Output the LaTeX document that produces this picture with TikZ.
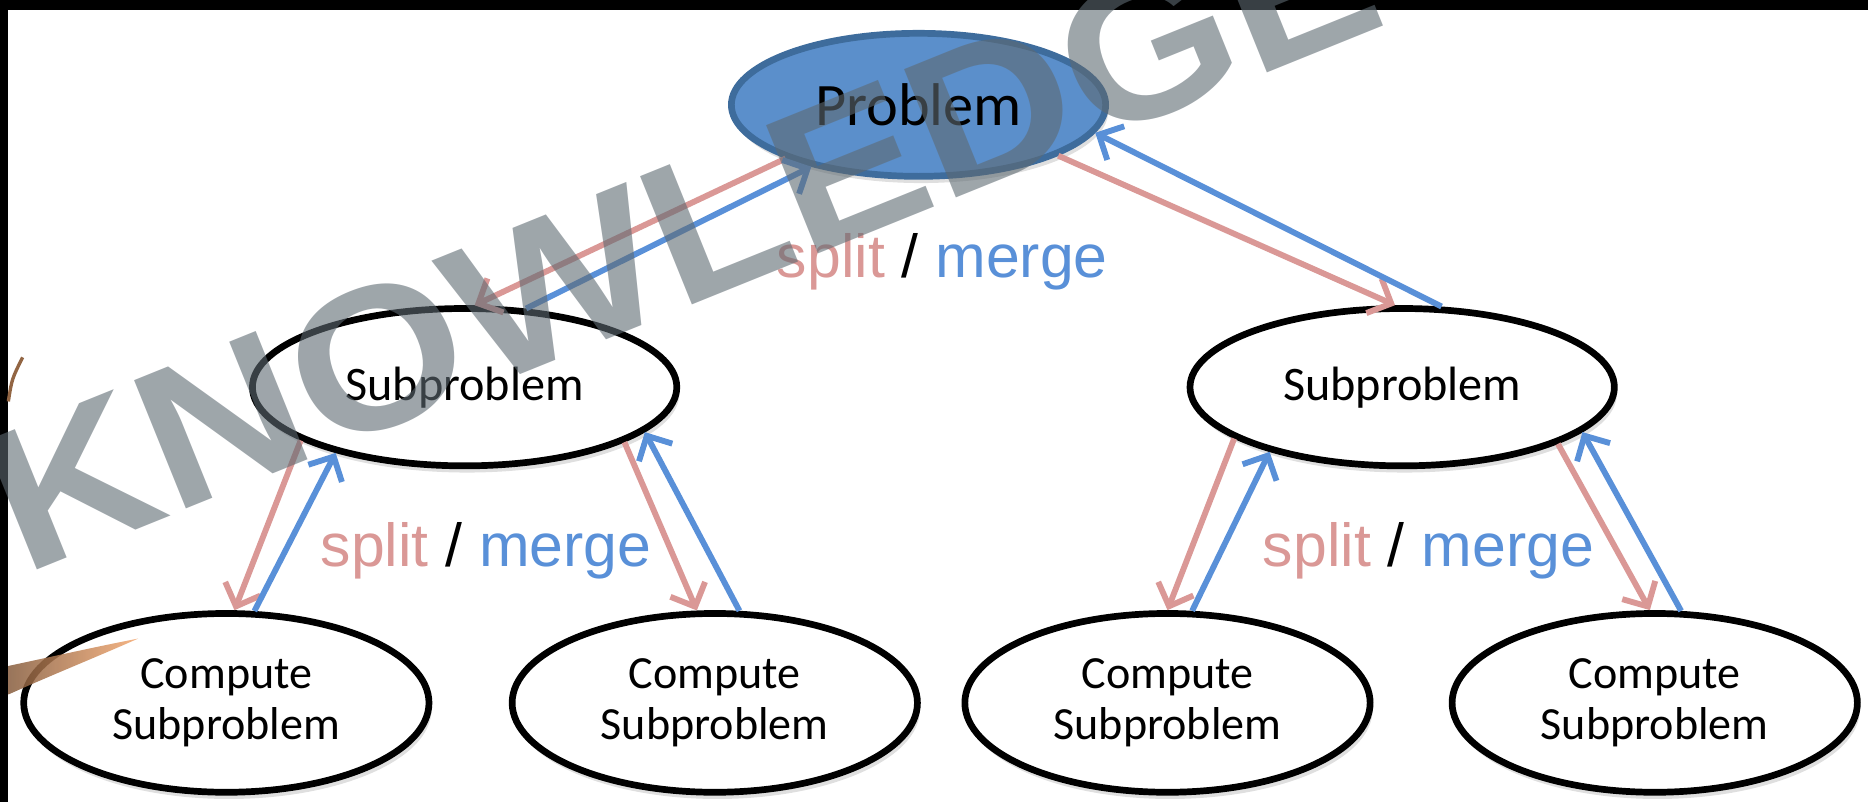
\documentclass[tikz,border=0pt]{standalone}
\usepackage{fontspec}
\setmainfont{Carlito}
\newfontfamily\labelfont{Liberation Sans}
\usepackage{tikz}
\usetikzlibrary{shapes.geometric, arrows.meta, shadows}
\definecolor{SplitRed}{HTML}{DA9896}
\definecolor{MergeBlue}{HTML}{5990D8}
\definecolor{ProbBlue}{HTML}{5B8FCB}
\definecolor{ProbEdge}{HTML}{3E6C9C}
\definecolor{MarkGray}{HTML}{5E6A72}
\definecolor{BrushOrange}{HTML}{F4A870}

\tikzset{
    box/.style={ellipse, draw=black, line width=1.6pt, fill=white, inner sep=0pt,
        drop shadow={opacity=0.25, shadow xshift=0.6pt, shadow yshift=-1.6pt}},
    subbox/.style={box, minimum width=3.56cm, minimum height=1.32cm, font=\fontsize{11.5}{13}\selectfont},
    leafbox/.style={box, minimum width=3.4cm, minimum height=1.5cm, align=center, font=\fontsize{11}{12}\selectfont},
    split/.style={SplitRed, line width=1.4pt, -{Straight Barb[length=4.5pt,width=9pt]}},
    merge/.style={MergeBlue, line width=1.4pt, -{Straight Barb[length=4.5pt,width=9pt]}},
    tag/.style={font=\labelfont\fontsize{14.5}{16}\selectfont, inner sep=0pt}
}

\begin{document}
\begin{tikzpicture}[x=0.01cm, y=-0.01cm]
    \useasboundingbox (0,0) rectangle (1568,673);

    % Dark frame edges
    \fill[black] (0,0) rectangle (1568,8);
    \fill[black] (0,0) rectangle (7,673);
    \draw[BrushOrange!60!black, line width=0.8pt] (7,337) .. controls (10,318) .. (19,300);

    % Problem tree
    \node[box, fill=ProbBlue, draw=ProbEdge, minimum width=3.14cm, minimum height=1.2cm,
        font=\fontsize{14.4}{16}\selectfont] (prob) at (771,88) {Problem};
    \node[subbox] (subL) at (390,325) {Subproblem};
    \node[subbox] (subR) at (1177,325) {Subproblem};
    \node[leafbox] (cLL) at (190,590) {Compute\\Subproblem};
    \node[leafbox] (cLR) at (600,590) {Compute\\Subproblem};
    \node[leafbox] (cRL) at (980,590) {Compute\\Subproblem};
    \node[leafbox] (cRR) at (1389,590) {Compute\\Subproblem};

    % Brush stroke at the left
    \shade[left color=BrushOrange!55!black, right color=BrushOrange, opacity=0.85]
        (7,559) .. controls (40,552) and (80,543) .. (116,536) .. controls (80,552) and (40,568) .. (7,583) -- cycle;

    % Split (down) and merge (up) arrows
    \draw[split] (prob.202) -- (subL.83);
    \draw[merge] (subL.52) -- (prob.210);
    \draw[split] (prob.340) -- (subR.95);
    \draw[merge] (subR.64) -- (prob.351);
    \draw[split] (subL.198) -- (cLL.85);
    \draw[merge] (cLL.73) -- (subL.207);
    \draw[split] (subL.341) -- (cLR.101);
    \draw[merge] (cLR.75) -- (subL.346);
    \draw[split] (subR.197) -- (cRL.90);
    \draw[merge] (cRL.75) -- (subR.206);
    \draw[split] (subR.340) -- (cRR.93);
    \draw[merge] (cRR.74) -- (subR.346);

    % Labels
    \node[tag] (lblTop) at (791,220) {\textcolor{SplitRed}{split} / \textcolor{MergeBlue}{merge}};
    \node[tag] (lblL) at (408,462) {\textcolor{SplitRed}{split} / \textcolor{MergeBlue}{merge}};
    \node[tag] (lblR) at (1199,462) {\textcolor{SplitRed}{split} / \textcolor{MergeBlue}{merge}};

    % Watermark
    \node[rotate=22, xscale=1.11, inner sep=0pt, text=MarkGray, text opacity=0.6,
        font=\labelfont\bfseries\fontsize{48}{48}\selectfont] (mark) at (572,197) {KNOWLEDGE};
\end{tikzpicture}
\end{document}
